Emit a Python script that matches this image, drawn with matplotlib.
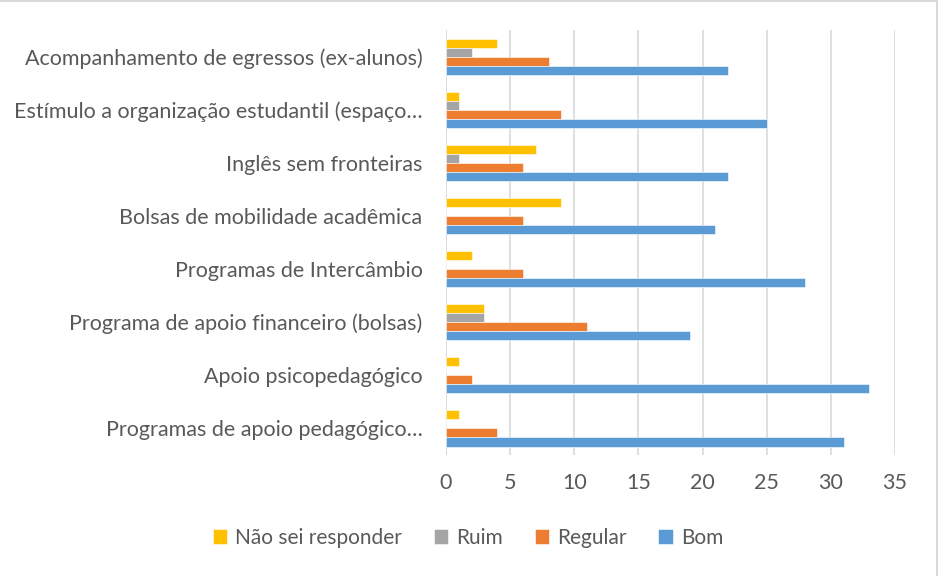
import matplotlib.pyplot as plt
import numpy as np
from matplotlib.lines import Line2D

categories = [
    "Acompanhamento de egressos (ex-alunos)",
    "Estímulo a organização estudantil (espaço…",
    "Inglês sem fronteiras",
    "Bolsas de mobilidade acadêmica",
    "Programas de Intercâmbio",
    "Programa de apoio financeiro (bolsas)",
    "Apoio psicopedagógico",
    "Programas de apoio pedagógico…",
]
nao_sei = [4, 1, 7, 9, 2, 3, 1, 1]
ruim = [2, 1, 1, 0, 0, 3, 0, 0]
regular = [8, 9, 6, 6, 6, 11, 2, 4]
bom = [22, 25, 22, 21, 28, 19, 33, 31]

series = [("Não sei responder", nao_sei, "#FFC000"),
          ("Ruim", ruim, "#A5A5A5"),
          ("Regular", regular, "#ED7D31"),
          ("Bom", bom, "#5B9BD5")]

plt.rcParams['font.family'] = ['Lato', 'DejaVu Sans']

fig = plt.figure(figsize=(9.38, 5.76), dpi=100)
ax = fig.add_axes([446/938, 1-455/576, (895-446)/938, (455-30)/576])

y = np.arange(len(categories))
h = 0.17
for i, (name, vals, col) in enumerate(series):
    ax.barh(y + (i - 1.5) * h, vals, height=h, color=col, label=name,
            edgecolor='white', linewidth=0.4)

ax.set_ylim(len(categories) - 0.5, -0.5)
ax.set_xlim(0, 35)
ax.set_xticks(range(0, 36, 5))
ax.set_yticks(y)
ax.set_yticklabels(categories)
ax.tick_params(axis='both', length=0, labelsize=15.5, colors='#595959')
ax.tick_params(axis='x', pad=13)
ax.tick_params(axis='y', pad=17)
ax.grid(axis='x', color='#D9D9D9', linewidth=1.2)
ax.set_axisbelow(True)
for s in ax.spines.values():
    s.set_visible(False)
ax.axvline(0, color='#D9D9D9', linewidth=1.2, zorder=0)

handles, labels = ax.get_legend_handles_labels()
fig.legend(handles, labels, loc='center', bbox_to_anchor=(468/938, 1-538/576),
           ncol=4, frameon=False, fontsize=15, labelcolor='#595959',
           handlelength=0.7, handleheight=0.7, handletextpad=0.4, columnspacing=1.5)

# light chart frame (top and right edges visible in the original)
fig.add_artist(Line2D([0, 1], [0.999, 0.999], transform=fig.transFigure,
                      color='#D9D9D9', linewidth=1.5))
fig.add_artist(Line2D([0.999, 0.999], [0, 1], transform=fig.transFigure,
                      color='#D9D9D9', linewidth=1.5))

fig.savefig('out.png', dpi=100)
